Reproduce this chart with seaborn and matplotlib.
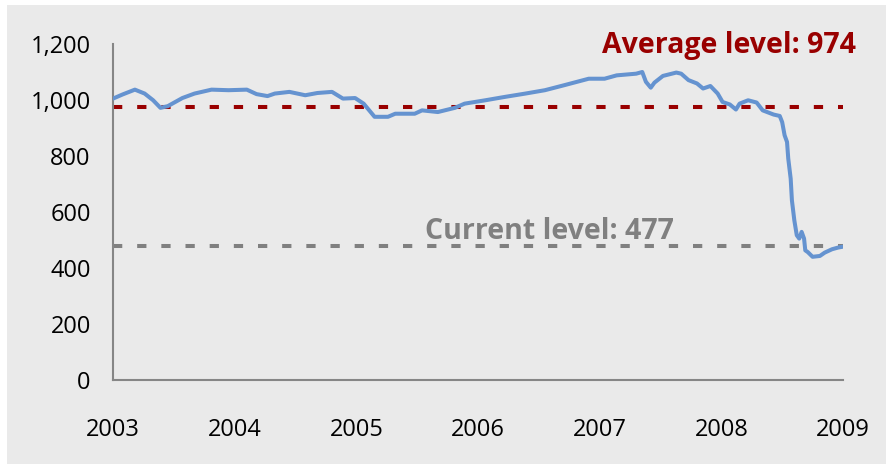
import matplotlib
matplotlib.use("Agg")
import matplotlib.pyplot as plt
import matplotlib.patches as mpatches
import seaborn as sns
import pandas as pd

# ---- data ----
years = [2003.00, 2003.08, 2003.18, 2003.26, 2003.33, 2003.39, 2003.45, 2003.57,
         2003.67, 2003.81, 2003.95, 2004.10, 2004.18, 2004.27, 2004.33, 2004.45,
         2004.58, 2004.68, 2004.80, 2004.89, 2004.99, 2005.06, 2005.15, 2005.26,
         2005.32, 2005.48, 2005.54, 2005.67, 2005.81, 2005.89, 2006.06, 2006.22,
         2006.39, 2006.55, 2006.71, 2006.91, 2007.04, 2007.14, 2007.30, 2007.35,
         2007.38, 2007.42, 2007.45, 2007.52, 2007.63, 2007.67, 2007.73, 2007.80,
         2007.85, 2007.91, 2007.97, 2008.01, 2008.07, 2008.12, 2008.15, 2008.22,
         2008.29, 2008.34, 2008.43, 2008.48, 2008.50, 2008.52, 2008.54, 2008.55,
         2008.57, 2008.58, 2008.60, 2008.62, 2008.64, 2008.66, 2008.68, 2008.69,
         2008.71, 2008.75, 2008.81, 2008.85, 2008.91, 2008.96, 2009.01]
values = [1005, 1020, 1037, 1023, 999, 972, 978, 1007,
          1023, 1037, 1035, 1037, 1021, 1014, 1023, 1029,
          1017, 1025, 1029, 1005, 1007, 987, 940, 940,
          951, 951, 963, 957, 972, 987, 999, 1011,
          1023, 1035, 1053, 1076, 1076, 1088, 1094, 1100,
          1065, 1044, 1062, 1086, 1098, 1094, 1071, 1059,
          1041, 1050, 1023, 993, 984, 966, 987, 999,
          991, 963, 948, 943, 921, 874, 850, 791,
          719, 642, 570, 517, 505, 529, 505, 463,
          457, 440, 443, 455, 467, 473, 477]
average_level = 974
current_level = 477
year_ticks = [2003, 2004, 2005, 2006, 2007, 2008, 2009]
y_ticks = [0, 200, 400, 600, 800, 1000, 1200]
avg_label = "Average level: 974"
cur_label = "Current level: 477"

df = pd.DataFrame({"year": years, "value": values})

sns.set_theme(style="white")
plt.rcParams["font.family"] = ["Open Sans", "DejaVu Sans"]

BG = "#eaeaea"
AXC = "#868686"

fig = plt.figure(figsize=(8.9, 4.65), dpi=100, facecolor="white")
bgrect = mpatches.Rectangle((7 / 890, 1 / 465), 879 / 890, 459 / 465,
                            transform=fig.transFigure, facecolor=BG,
                            edgecolor="none", zorder=-10)
fig.patches.append(bgrect)
ax = fig.add_axes([113 / 890, 85 / 465, 730 / 890, 336 / 465])
ax.set_facecolor(BG)
ax.set_zorder(1)

ax.plot([year_ticks[0], year_ticks[-1]], [average_level, average_level],
        color="#990000", lw=2.9, linestyle=(0, (2.3, 3.7)), zorder=2)
ax.plot([year_ticks[0], year_ticks[-1]], [current_level, current_level],
        color="#808080", lw=2.9, linestyle=(0, (2.3, 3.7)), zorder=2)

sns.lineplot(data=df, x="year", y="value", ax=ax, color="#6593d0",
             linewidth=2.9, estimator=None, sort=False, zorder=3)

ax.text(2009.105, 1168, avg_label, ha="right", va="baseline",
        fontsize=20.5, fontweight="bold", color="#990000", clip_on=False)
ax.text(2005.564, 502, cur_label, ha="left", va="baseline",
        fontsize=20.5, fontweight="bold", color="#808080")

ax.set_xlim(2003, 2009)
ax.set_ylim(0, 1200)
ax.set_xticks(year_ticks)
ax.set_xticklabels([str(y) for y in year_ticks])
ax.set_yticks(y_ticks)
ax.set_yticklabels([f"{v:,}" for v in y_ticks])
ax.set_xlabel("")
ax.set_ylabel("")

for s in ["top", "right"]:
    ax.spines[s].set_visible(False)
for s in ["left", "bottom"]:
    ax.spines[s].set_color(AXC)
    ax.spines[s].set_linewidth(1.5)

ax.tick_params(axis="both", which="major", direction="out", length=6,
               width=1.5, color=AXC, labelsize=17, labelcolor="black")
ax.tick_params(axis="y", pad=10)
ax.tick_params(axis="x", pad=21)

fig.savefig("out.png", dpi=100, facecolor="white")
